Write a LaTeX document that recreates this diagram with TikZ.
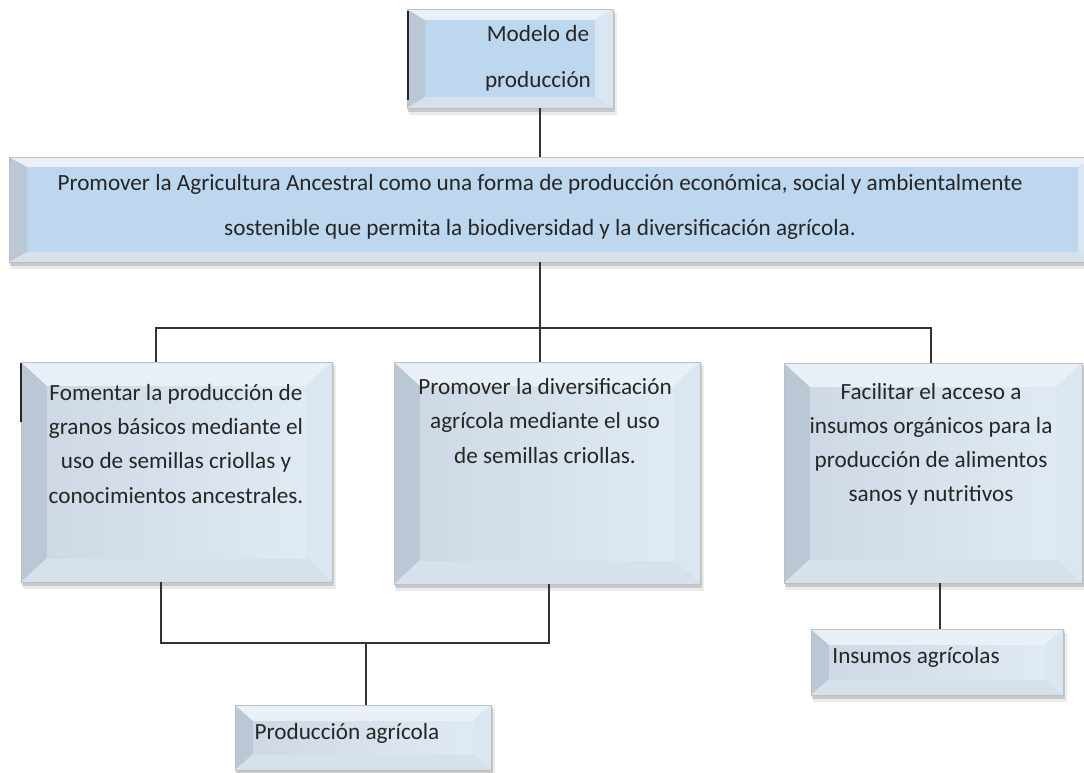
\documentclass[tikz,border=0pt]{standalone}
\usepackage{fontspec}
\setmainfont{Carlito}
\usetikzlibrary{fit}
\definecolor{faceblue}{RGB}{189,215,238}
\definecolor{facelo}{RGB}{206,217,229}
\definecolor{facehi}{RGB}{224,234,244}
\definecolor{bevleft}{RGB}{186,199,213}
\definecolor{bevtop}{RGB}{234,240,247}
\definecolor{bevright}{RGB}{218,230,242}
\definecolor{bevbot}{RGB}{214,225,237}
% bevelled box: name, x1, y1, x2, y2, bevel x, bevel y, face style
\newcommand\bevbox[8]{%
\fill[black,opacity=.08] (#2+2,#3+4) rectangle (#4+4,#5+7);
\fill[black,opacity=.15] (#2+1,#3+2) rectangle (#4+2,#5+4);
\fill[bevleft] (#2,#3)--(#2+#6,#3+#7)--(#2+#6,#5-#7)--(#2,#5)--cycle;
\fill[bevtop] (#2,#3)--(#4,#3)--(#4-#6,#3+#7)--(#2+#6,#3+#7)--cycle;
\fill[bevright] (#4,#3)--(#4,#5)--(#4-#6,#5-#7)--(#4-#6,#3+#7)--cycle;
\fill[bevbot] (#2,#5)--(#4,#5)--(#4-#6,#5-#7)--(#2+#6,#5-#7)--cycle;
\fill[#8] (#2+#6,#3+#7) rectangle (#4-#6,#5-#7);
\draw[black!25,line width=.4pt] (#2,#3) rectangle (#4,#5);
\path (#2,#3) coordinate (#1-nw) (#4,#5) coordinate (#1-se);
\node[fit=(#1-nw)(#1-se),inner sep=0pt] (#1) {};}
\begin{document}
\begin{tikzpicture}[x=0.025cm,y=-0.025cm,
  conn/.style={draw=black!80,line width=.9pt},
  flat/.style={fill=faceblue},
  soft/.style={left color=facelo,right color=facehi},
  lbl/.style={text=black!85,align=center,inner sep=0pt,font=\fontsize{16.5}{24.2}\selectfont},
  wide/.style={lbl,font=\fontsize{16.5}{32.5}\selectfont}]
\useasboundingbox (0,0) rectangle (1084,772);
\clip (0,0) rectangle (1084,772);
% boxes
\bevbox{top}{407}{9}{613}{108}{18}{11}{flat}
\bevbox{big}{9}{157}{1096}{262}{18}{10}{flat}
\bevbox{lb}{21}{362}{332}{582}{26}{24}{soft}
\bevbox{mb}{394}{362}{700}{584}{26}{24}{soft}
\bevbox{rb}{784}{363}{1082}{583}{26}{24}{soft}
\bevbox{pa}{235}{705}{491}{770}{18}{16}{soft}
\bevbox{ia}{811}{629}{1063}{695}{18}{16}{soft}
\draw[black!85,line width=2pt] (408,11)--(408,100);
\draw[black!85,line width=2pt] (21,363)--(21,422);
% texts
\node[wide] (t-top) at (538,58) {Modelo de\\producción};
\node[wide] (t-big) at (540,207) {Promover la Agricultura Ancestral como una forma de producción económica, social y ambientalmente\\sostenible que permita la biodiversidad y la diversificación agrícola.};
\node[lbl] (t-lb) at (176,444) {Fomentar la producción de\\granos básicos mediante el\\uso de semillas criollas y\\conocimientos ancestrales.};
\node[lbl] (t-mb) at (545,421) {Promover la diversificación\\agrícola mediante el uso\\de semillas criollas.};
\node[lbl] (t-rb) at (931,444) {Facilitar el acceso a\\insumos orgánicos para la\\producción de alimentos\\sanos y nutritivos};
\node[lbl] (t-pa) at (347,733) {Producción agrícola};
\node[lbl] (t-ia) at (916,657) {Insumos agrícolas};
% connectors
\coordinate (j0) at (540,0);
\coordinate (j1) at (540,328);
\coordinate (jl) at (156,328);
\coordinate (jr) at (931,328);
\coordinate (kl) at (161,643);
\coordinate (kr) at (549,643);
\coordinate (km) at (366,643);
\coordinate (kq) at (940,0);
\draw[conn] (top.south -| j0)--(big.north -| j0);
\draw[conn] (big.south -| j1)--(j1)--(mb.north -| j1);
\draw[conn] (lb.north -| jl)--(jl)--(jr)--(rb.north -| jr);
\draw[conn] (lb.south -| kl)--(kl)--(kr)--(mb.south -| kr);
\draw[conn] (km)--(pa.north -| km);
\draw[conn] (rb.south -| kq)--(ia.north -| kq);
\end{tikzpicture}
\end{document}
